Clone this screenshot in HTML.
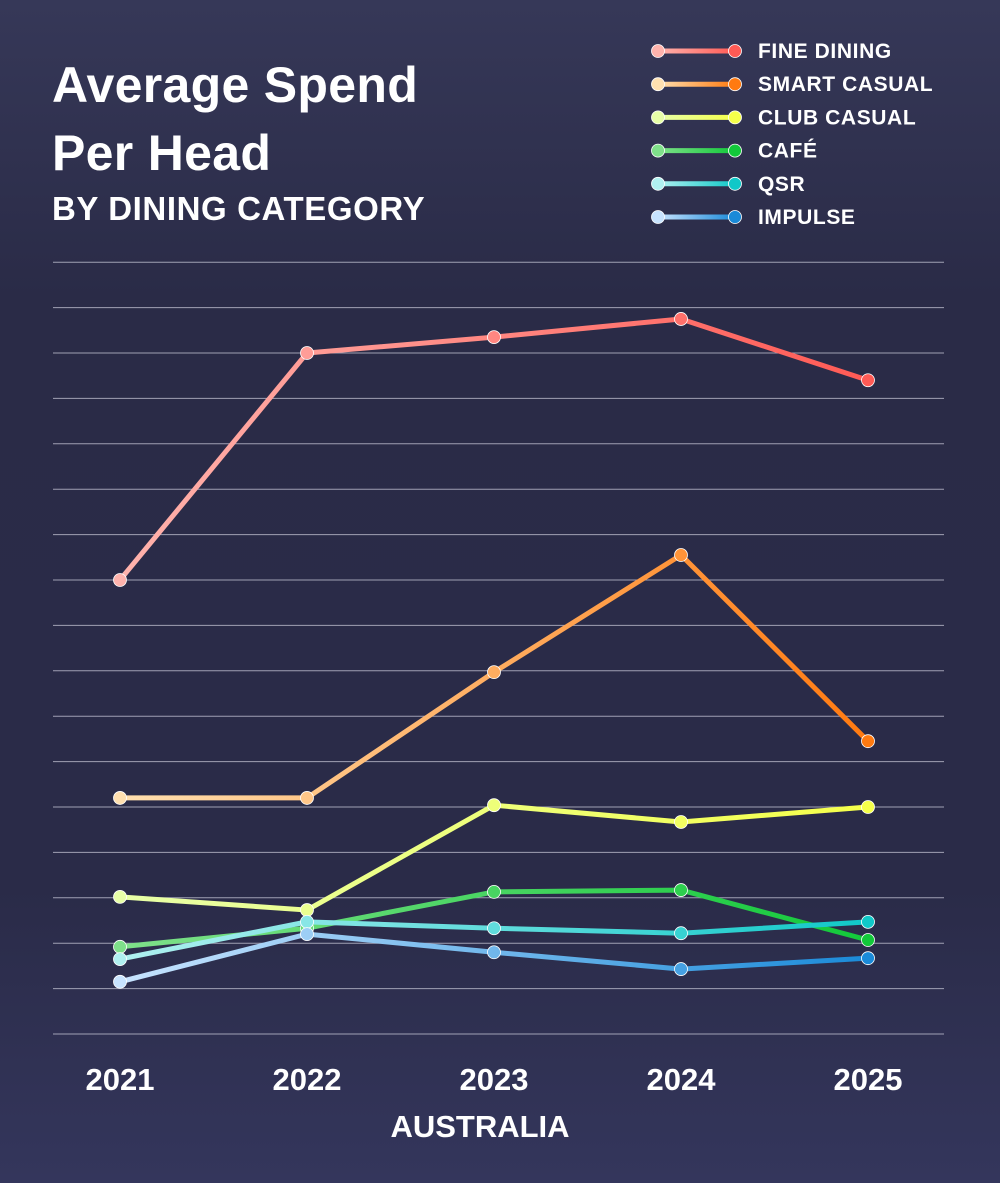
<!DOCTYPE html>
<html><head><meta charset="utf-8"><style>
html,body{margin:0;padding:0}
body{width:1000px;height:1183px;overflow:hidden;background:linear-gradient(180deg,#363858 0%,#2a2b47 25%,#2a2b48 75%,#34365c 100%);font-family:"Liberation Sans",sans-serif}
svg{position:absolute;left:0;top:0}
</style></head><body>
<svg width="1000" height="1183" id="chart">
<defs id="defs"></defs>
<text x="52" y="102" fill="#fff" font-size="50" font-weight="bold" letter-spacing="0.3">Average Spend</text>
<text x="52" y="170" fill="#fff" font-size="50" font-weight="bold" letter-spacing="0.3">Per Head</text>
<text x="52" y="220" fill="#fff" font-size="33" font-weight="bold" letter-spacing="0.6">BY DINING CATEGORY</text>
<text x="480" y="1137" fill="#fff" font-size="31" font-weight="bold" text-anchor="middle">AUSTRALIA</text>
<g id="grid"></g><g id="xticks"></g><g id="series"></g><g id="legend"></g>
</svg>
<script>
const years = ["2021","2022","2023","2024","2025"];
const seriesNames = ["FINE DINING","SMART CASUAL","CLUB CASUAL","CAFÉ","QSR","IMPULSE"];
const fineDining = [10.0,15.0,15.35,15.75,14.4];
const smartCasual = [5.2,5.2,7.97,10.55,6.45];
const clubCasual = [3.02,2.73,5.04,4.67,5.0];
const cafe = [1.92,2.33,3.13,3.17,2.07];
const qsr = [1.65,2.47,2.33,2.22,2.47];
const impulse = [1.15,2.2,1.8,1.43,1.67];
const gridValues = [0,1,2,3,4,5,6,7,8,9,10,11,12,13,14,15,16,17];

const NS="http://www.w3.org/2000/svg";
const allSeries=[fineDining,smartCasual,clubCasual,cafe,qsr,impulse];
const colors=[["#ffb3ad","#ff5a55"],["#ffe0b0","#ff7a10"],["#e8ffa8","#f5ff4a"],["#7fe08a","#12c93a"],["#b0f0f0","#10c8c8"],["#c8e4ff","#1a8ad8"]];
function x(i){return 120+i*(868-120)/(years.length-1);}
function y(v){return 1034-v*45.4;}
function mk(tag,attrs,parent){const e=document.createElementNS(NS,tag);for(const k in attrs)e.setAttribute(k,attrs[k]);parent.appendChild(e);return e;}
const defs=document.getElementById('defs');
colors.forEach((c,i)=>{const g=mk('linearGradient',{id:'g'+i,gradientUnits:'userSpaceOnUse',x1:'658',x2:'735',y1:'0',y2:'0'},defs);mk('stop',{offset:'0',"stop-color":c[0]},g);mk('stop',{offset:'1',"stop-color":c[1]},g);
const gu=mk('linearGradient',{id:'gu'+i,gradientUnits:'userSpaceOnUse',x1:'120',x2:'868',y1:'0',y2:'0'},defs);mk('stop',{offset:'0',"stop-color":c[0]},gu);mk('stop',{offset:'1',"stop-color":c[1]},gu);});
const grid=document.getElementById('grid');
gridValues.forEach(v=>{const l=mk('line',{x1:53,x2:944,y1:y(v),y2:y(v),stroke:'#c8c8d8',"stroke-width":1,opacity:0.75},grid);

});
const xt=document.getElementById('xticks');
years.forEach((yr,i)=>{const t=mk('text',{x:x(i),y:1090,fill:'#fff',"font-size":31,"font-weight":'bold',"text-anchor":'middle'},xt);t.textContent=yr;

});
const sg=document.getElementById('series');
allSeries.forEach((s,k)=>{
const p=mk('polyline',{points:s.map((v,i)=>x(i)+','+y(v)).join(' '),fill:'none',stroke:'url(#gu'+k+')',"stroke-width":5,"stroke-linejoin":'round'},sg);


s.forEach((v,i)=>{const c=mk('circle',{cx:x(i),cy:y(v),r:6.5,fill:'url(#gu'+k+')',stroke:'#fff',"stroke-width":0.8},sg);

});});
const lg=document.getElementById('legend');
seriesNames.forEach((n,k)=>{const yy=51+k*33.2;
const l=mk('line',{x1:658,x2:735,y1:yy,y2:yy,stroke:'url(#g'+k+')',"stroke-width":5},lg);


[658,735].forEach((cx,j)=>{const c=mk('circle',{cx:cx,cy:yy,r:6.5,fill:colors[k][j],stroke:'#fff',"stroke-width":0.8},lg);

});
const t=mk('text',{x:758,y:yy+7,fill:'#fff',"font-size":21,"font-weight":'bold',"letter-spacing":0.6},lg);t.textContent=n;

});
</script>
</body></html>
